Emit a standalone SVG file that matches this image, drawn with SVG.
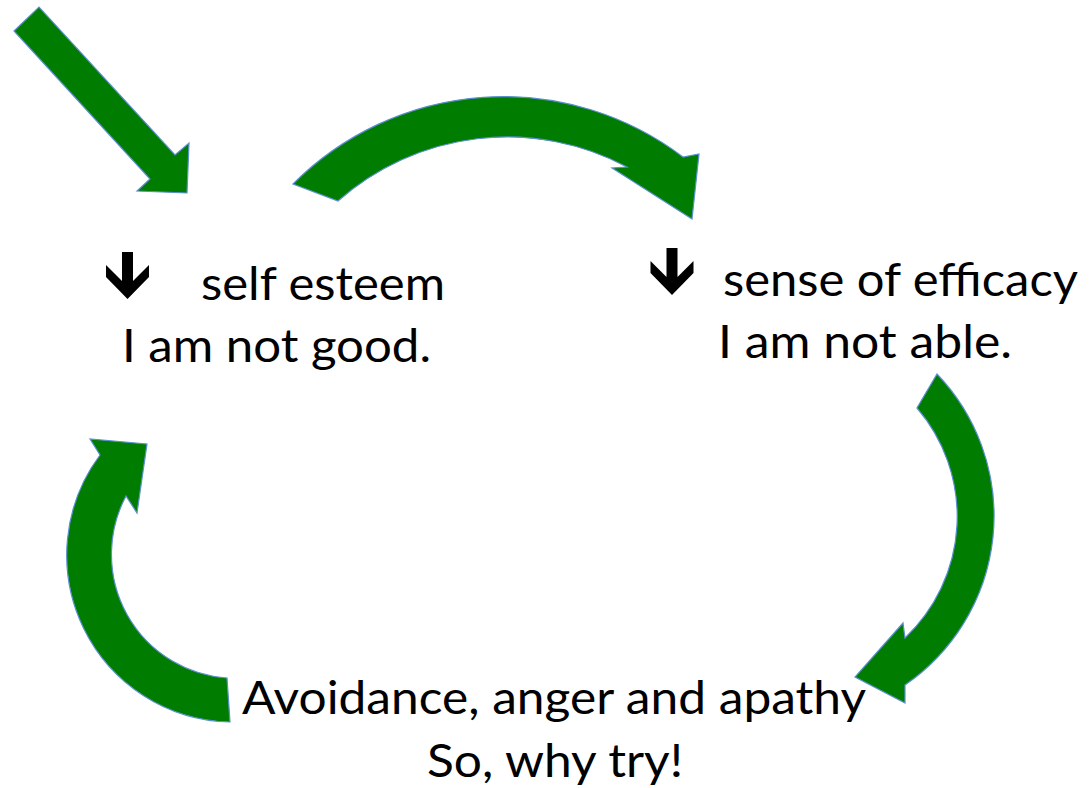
<svg xmlns="http://www.w3.org/2000/svg" width="1091" height="788" viewBox="0 0 1091 788">
<defs>
<style>
.arr{fill:#007c00;stroke:#5b8fd0;stroke-width:1.2;stroke-linejoin:miter}
.t{font-family:Lato,"Liberation Sans",sans-serif;font-size:46px;fill:#000}
.dn{fill:#000}
</style>
<polygon id="down" points="-5.5,0 5.5,0 5.5,29 21.5,13 21.5,25 0,47 -21.5,25 -21.5,13 -5.5,29"/>
</defs>
<rect width="1091" height="788" fill="#fff"/>
<g id="connectors">
<polygon class="arr" points="14,31 39,7 175,155 189,143 187,193 137,191 150,179"/>
<path class="arr" d="M293,184 A297,297 0 0 1 683,157 L699,154 L692,219 L612,168 L627,167 A255,255 0 0 0 338,201 Z"/>
<path class="arr" d="M937,374 A205,205 0 0 1 905,685 L905,703 L855,677 L903,623 L905,638 A167,167 0 0 0 917,408 Z"/>
<path class="arr" d="M230,722 A167,167 0 0 1 100,455 L90,439 L147,444 L137,513 L126,496 A124,124 0 0 0 227,678 Z"/>
</g>
<g id="node-self-esteem">
<use href="#down" class="dn" transform="translate(127.5,252)"/>
<text class="t" x="201" y="300" textLength="244" lengthAdjust="spacingAndGlyphs">self esteem</text>
<text class="t" x="122" y="362" textLength="309" lengthAdjust="spacingAndGlyphs">I am not good.</text>
</g>
<g id="node-efficacy">
<use href="#down" class="dn" transform="translate(672,248)"/>
<text class="t" x="723" y="296" textLength="355" lengthAdjust="spacingAndGlyphs">sense of efficacy</text>
<text class="t" x="718" y="358" textLength="294" lengthAdjust="spacingAndGlyphs">I am not able.</text>
</g>
<g id="node-avoidance">
<text class="t" x="242" y="714" textLength="624" lengthAdjust="spacingAndGlyphs">Avoidance, anger and apathy</text>
<text class="t" x="427" y="777" textLength="256" lengthAdjust="spacingAndGlyphs">So, why try!</text>
</g>
</svg>
